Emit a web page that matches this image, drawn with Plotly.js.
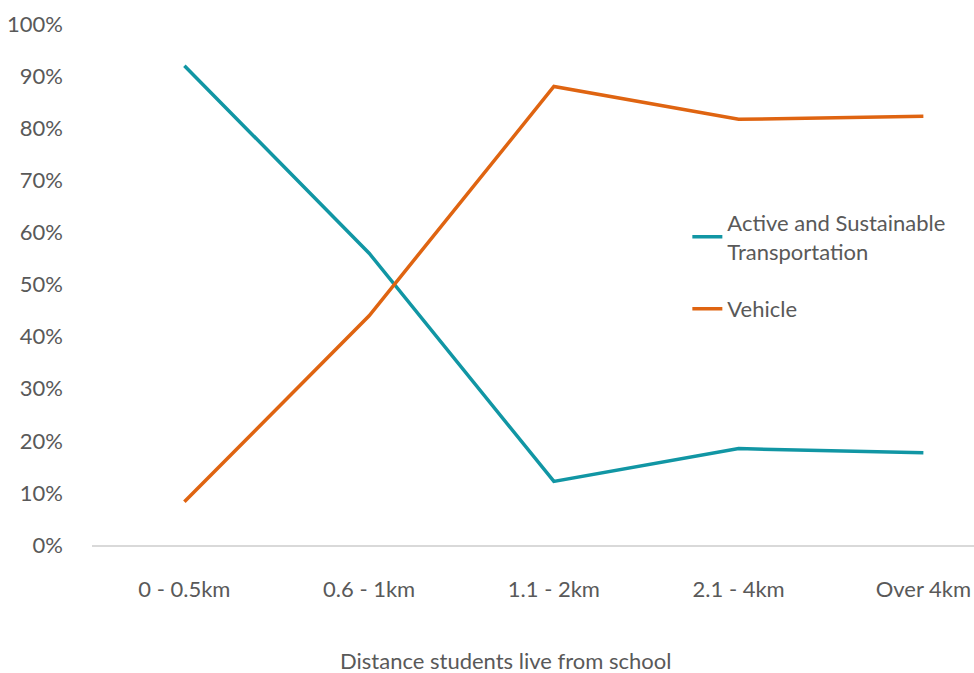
<!DOCTYPE html>
<html>
<head>
<meta charset="utf-8">
<script src="https://cdn.plot.ly/plotly-3.0.1.min.js"></script>
<style>html,body{margin:0;padding:0;background:#fff;}#chart{width:974px;height:673px;}</style>
</head>
<body>
<div id="chart"></div>
<script>
const categories = ['0 - 0.5km', '0.6 - 1km', '1.1 - 2km', '2.1 - 4km', 'Over 4km'];
const activeValues = [92, 56, 12.2, 18.5, 17.7];
const vehicleValues = [8.3, 44, 88, 81.7, 82.3];
const seriesNames = ['Active and Sustainable<br>Transportation', 'Vehicle'];
const xTitle = 'Distance students live from school';

const fontFam = 'Lato, "Open Sans", sans-serif';
const grey = '#595959';
const fs = 22;

const traces = [
  {x: categories, y: activeValues, name: seriesNames[0], type: 'scatter', mode: 'lines',
   legendgroup: 'a', line: {color: '#1196a4', width: 3.5}},
  {x: categories, y: vehicleValues, name: seriesNames[1], type: 'scatter', mode: 'lines',
   legendgroup: 'v', line: {color: '#df6411', width: 3.5}}
];

const layout = {
  width: 974, height: 673,
  margin: {l: 92, r: 0, t: 24, b: 128},
  paper_bgcolor: '#fff', plot_bgcolor: '#fff',
  font: {family: fontFam, size: fs, color: grey},
  showlegend: true,
  legend: {x: 0.675, xanchor: 'left', y: 0.659, yanchor: 'top', bgcolor: 'rgba(0,0,0,0)',
           traceorder: 'grouped', tracegroupgap: 26,
           font: {family: fontFam, size: fs, color: grey}},
  xaxis: {type: 'category', range: [-0.5, 4.274], showgrid: false, zeroline: false,
          showline: true, linecolor: '#d9d9d9', linewidth: 1.5, ticks: '',
          ticklabelstandoff: 24, tickfont: {family: fontFam, size: fs, color: grey}, fixedrange: true},
  yaxis: {range: [0, 100], dtick: 10, ticksuffix: '%', showgrid: false, zeroline: false,
          showline: false, ticks: '', ticklabelstandoff: 28,
          tickfont: {family: fontFam, size: fs, color: grey}, fixedrange: true},
  annotations: [{text: xTitle, xref: 'paper', yref: 'paper', x: 0.469, y: -0.221,
                 xanchor: 'center', yanchor: 'middle', showarrow: false,
                 font: {family: fontFam, size: fs, color: grey}}]
};

Plotly.newPlot('chart', traces, layout, {displayModeBar: false, staticPlot: true});
</script>
</body>
</html>
